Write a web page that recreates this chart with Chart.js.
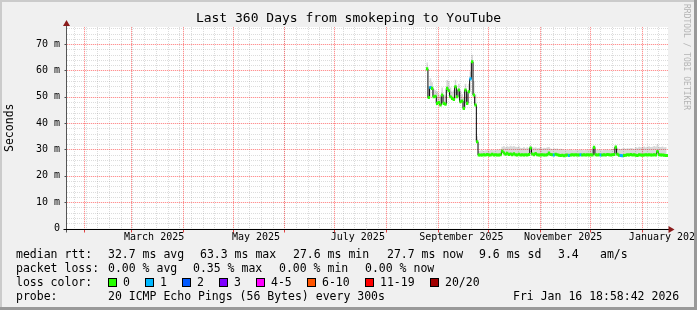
<!DOCTYPE html>
<html>
<head>
<meta charset="utf-8">
<title>Last 360 Days from smokeping to YouTube</title>
<script src="https://cdn.jsdelivr.net/npm/chart.js@4.4.1/dist/chart.umd.min.js"></script>
<style>
  html, body { margin: 0; padding: 0; background: #f0f0f0; }
  #graph { position: relative; width: 697px; height: 310px; overflow: hidden; background: #f0f0f0; }
  #graph canvas { position: absolute; left: 0; top: 0; }
  .txt { position: absolute; font: 11.5px "DejaVu Sans Mono", monospace; line-height: 14px; color: #000; white-space: pre; }
  .swatch { position: absolute; width: 7px; height: 7px; border: 1px solid #000; }
  #watermark { position: absolute; left: 682px; top: 4px; writing-mode: vertical-rl; font: 8px "DejaVu Sans Mono", monospace; line-height: 9px; color: #b4b4b4; white-space: pre; }
  .edge { position: absolute; }
</style>
</head>
<body>
<div id="graph">
  <canvas id="myChart" width="697" height="310"></canvas>
  <div id="legend"></div>
  <div id="watermark">RRDTOOL / TOBI OETIKER</div>
  <div class="edge" style="left:0;top:0;width:697px;height:2px;background:#cbcbcb"></div>
  <div class="edge" style="left:0;top:0;width:2px;height:310px;background:#cbcbcb"></div>
  <div class="edge" style="left:694px;top:0;width:3px;height:310px;background:#999"></div>
  <div class="edge" style="left:0;top:307px;width:697px;height:3px;background:#999"></div>
</div>
<script>
// Days are counted from Jan 1 2025 (day 0); one sample per day
const firstSampleDay = 236;   // Aug 25 2025
const rangeStart = 20.8;      // Jan 21 2025 ~19:00 (360 days back)
const rangeEnd = 380.8;       // Jan 16 2026 18:58

// median rtt in ms, one value per day
const medianRtt = [
  60.6, 49.7, 53.5, 53.2, 50.0, 50.2, 47.5, 47.8, 46.9, 50.7,
  47.5, 47.2, 53.2, 52.3, 50.0, 49.4, 49.0, 53.8, 50.0, 52.6,
  48.1, 48.4, 45.6, 52.6, 47.5, 51.9, 56.8, 63.3, 50.7, 46.9,
  32.9,
  27.9, 27.9, 27.9, 28.0, 27.9, 28.1, 27.9, 27.9, 28.2, 27.9,
  28.0, 27.9, 27.9, 28.0, 29.3, 28.7, 28.2, 28.6, 28.1, 28.3,
  28.0, 28.4, 28.0, 27.9, 28.2, 27.9, 28.0, 27.9, 28.0, 27.9,
  28.1, 30.6, 28.3, 28.0, 28.5, 28.0, 27.9, 27.9, 28.0, 27.9,
  27.9, 28.0, 28.7, 28.1, 28.0, 27.9, 28.2, 28.0, 27.8, 27.7,
  27.8, 27.6, 27.8, 27.9, 27.7, 27.9, 28.0, 27.9, 28.0, 27.9,
  27.9, 28.0, 27.9, 28.0, 27.9, 28.0, 27.9, 28.0, 27.9, 30.8,
  28.0, 27.9, 28.0, 27.9, 27.9, 28.0, 27.9, 28.1, 28.0, 27.9,
  28.0, 28.1, 30.9, 28.2, 27.8, 27.7, 27.6, 27.7, 27.8, 28.0,
  27.9, 28.1, 27.9, 28.0, 27.8, 27.7, 28.0, 27.9, 27.8, 27.9,
  28.0, 27.9, 28.0, 27.9, 27.9, 28.0, 27.9, 29.2, 28.0, 27.9,
  27.9, 27.8, 27.7, 27.7
];

// top of the smoke (slowest pings) in ms, one value per day
const smokeTop = [
  63.0, 54.0, 57.0, 55.5, 53.0, 52.5, 52.0, 51.0, 50.0, 53.5,
  51.0, 50.5, 56.4, 56.0, 53.5, 52.0, 52.5, 56.5, 53.0, 55.0,
  52.0, 51.0, 49.5, 55.0, 51.0, 55.0, 59.6, 66.0, 56.0, 51.0,
  35.0,
  29.4, 29.6, 29.8, 29.5, 29.7, 29.9, 29.6, 29.8, 29.9, 29.7,
  29.8, 30.0, 29.9, 30.2, 31.0, 31.3, 30.8, 31.2, 31.0, 31.4,
  31.1, 31.3, 31.0, 30.9, 31.2, 30.7, 30.6, 30.9, 30.5, 30.8,
  30.6, 31.5, 30.9, 30.7, 30.8, 30.5, 30.6, 30.9, 30.4, 30.7,
  30.6, 30.8, 30.9, 30.4, 30.2, 30.5, 30.3, 30.4, 30.1, 30.3,
  30.2, 29.9, 30.0, 29.8, 29.9, 30.1, 29.8, 29.7, 30.0, 29.9,
  29.8, 30.0, 29.9, 29.7, 29.9, 30.0, 29.8, 29.9, 30.0, 31.2,
  29.9, 29.8, 30.0, 29.9, 29.7, 30.0, 29.9, 30.1, 29.8, 30.0,
  30.2, 30.4, 31.4, 30.5, 30.3, 30.2, 30.4, 30.6, 30.3, 30.5,
  30.4, 30.6, 30.5, 30.3, 30.9, 30.7, 31.0, 30.8, 30.9, 31.1,
  30.8, 31.0, 31.2, 30.9, 31.0, 31.3, 31.1, 32.0, 31.0, 30.9,
  31.1, 30.8, 30.9, 30.7
];

// days with lost packets and how many were lost (all other days: 0)
const lossDays = [238, 262, 312, 321, 328, 340, 352, 353];
const lossCounts = [1, 1, 1, 1, 1, 1, 1, 1];

const lossLabels = ['0', '1', '2', '3', '4-5', '6-10', '11-19', '20/20'];
const lossColors = ['#26ff00', '#00b8ff', '#0059ff', '#7e00ff', '#ff00ff', '#ff5500', '#ff0000', '#a10000'];

const yTicks = [0, 10, 20, 30, 40, 50, 60, 70];
const monthStarts = [31, 59, 90, 120, 151, 181, 212, 243, 273, 304, 334, 365];
const monthLabelDays = [73, 134, 195, 257, 318, 379];
const monthLabels = ['March 2025', 'May 2025', 'July 2025', 'September 2025', 'November 2025', 'January 2026'];

const yMax = 76.5;
const lossBarHalf = 0.45;   // half height of the loss colour mark, in ms
const mono = '"DejaVu Sans Mono", monospace';
const minorGrid = 'rgba(128,128,128,0.28)';
const majorTint = 'rgba(255,0,0,0.1)';
const majorGrid = 'rgba(255,0,0,0.36)';

// legend rows below the graph
const legendRows = [
  [[16, 'median rtt:'], [108, '32.7 ms avg'], [200, '63.3 ms max'], [293, '27.6 ms min'],
   [387, '27.7 ms now'], [479, '9.6 ms sd'], [558, '3.4'], [600, 'am/s']],
  [[16, 'packet loss:'], [108, '0.00 % avg'], [193, '0.35 % max'], [279, '0.00 % min'], [365, '0.00 % now']],
  [[16, 'loss color:']],
  [[16, 'probe:'], [108, '20 ICMP Echo Pings (56 Bytes) every 300s'], [513, 'Fri Jan 16 18:58:42 2026']]
];
const legendTops = [247, 261, 275, 289];
const swatchX = [108, 145, 182, 219, 256, 307, 365, 430];

function buildLegend() {
  const box = document.getElementById('legend');
  legendRows.forEach((row, r) => {
    row.forEach(([x, text]) => {
      const s = document.createElement('div');
      s.className = 'txt';
      s.style.left = x + 'px';
      s.style.top = legendTops[r] + 'px';
      s.textContent = text;
      box.appendChild(s);
    });
  });
  lossLabels.forEach((label, i) => {
    const sw = document.createElement('div');
    sw.className = 'swatch';
    sw.style.left = swatchX[i] + 'px';
    sw.style.top = (legendTops[2] + 3) + 'px';
    sw.style.background = lossColors[i];
    box.appendChild(sw);
    const t = document.createElement('div');
    t.className = 'txt';
    t.style.left = (swatchX[i] + 15) + 'px';
    t.style.top = legendTops[2] + 'px';
    t.textContent = label;
    box.appendChild(t);
  });
}

function lossColorFor(day) {
  const k = lossDays.indexOf(day);
  const n = k < 0 ? 0 : lossCounts[k];
  if (n <= 3) return lossColors[n];
  if (n <= 5) return lossColors[4];
  if (n <= 10) return lossColors[5];
  if (n <= 19) return lossColors[6];
  return lossColors[7];
}

function fixWidth(w) {
  return s => { s.width = w; s.paddingTop = 0; s.paddingBottom = 0; };
}
function fixHeight(h) {
  return s => { s.height = h; s.paddingLeft = 0; s.paddingRight = 0; };
}

// rrdtool style dotted grid: one pixel on, one pixel off (optional tint under it)
function dottedLines(ctx, a, positions, vertical, color, tint) {
  ctx.save();
  positions.forEach(p => {
    const q = Math.round(p);
    if (tint) {
      ctx.fillStyle = tint;
      if (vertical) ctx.fillRect(q, a.top, 1, a.bottom - a.top);
      else ctx.fillRect(a.left, q, a.right - a.left, 1);
    }
    ctx.fillStyle = color;
    if (vertical) {
      for (let y = Math.ceil(a.top); y < a.bottom; y += 2) ctx.fillRect(q, y, 1, 1);
    } else {
      for (let x = Math.ceil(a.left); x < a.right; x += 2) ctx.fillRect(x, q, 1, 1);
    }
  });
  ctx.restore();
}

// white plot area, grid, axis lines and arrows like rrdtool
const frame = {
  id: 'frame',
  beforeDatasetsDraw(chart) {
    const { ctx, chartArea: a, scales } = chart;
    ctx.save();
    ctx.fillStyle = '#fff';
    ctx.fillRect(a.left, a.top, a.right - a.left, a.bottom - a.top);
    ctx.restore();
    const weeks = [];
    for (let d = 25; d <= rangeEnd; d += 7) weeks.push(scales.x.getPixelForValue(d));
    const minorY = [];
    for (let v = 2; v <= yMax; v += 2) if (v % 10) minorY.push(scales.y.getPixelForValue(v));
    dottedLines(ctx, a, weeks, true, minorGrid);
    dottedLines(ctx, a, minorY, false, minorGrid);
    dottedLines(ctx, a, monthStarts.map(d => scales.x.getPixelForValue(d)), true, majorGrid, majorTint);
    dottedLines(ctx, a, yTicks.filter(v => v > 0).map(v => scales.y.getPixelForValue(v)), false, majorGrid, majorTint);
  },
  afterDraw(chart) {
    const { ctx, chartArea: a, scales } = chart;
    const ax = Math.round(a.left) - 0.5;
    const ay = Math.round(a.bottom) + 0.5;
    ctx.save();
    ctx.lineWidth = 1;
    // small month ticks under the time axis
    ctx.strokeStyle = '#e04040';
    ctx.beginPath();
    monthStarts.forEach(d => {
      const q = Math.round(scales.x.getPixelForValue(d)) + 0.5;
      ctx.moveTo(q, ay); ctx.lineTo(q, ay + 3);
    });
    ctx.stroke();
    // small value ticks left of the value axis
    ctx.strokeStyle = '#505050';
    ctx.beginPath();
    yTicks.forEach(v => {
      const q = Math.round(scales.y.getPixelForValue(v)) + 0.5;
      ctx.moveTo(ax - 2, q); ctx.lineTo(ax, q);
    });
    ctx.stroke();
    ctx.strokeStyle = '#555';
    ctx.beginPath(); ctx.moveTo(ax, a.top - 2); ctx.lineTo(ax, ay + 3); ctx.stroke();
    ctx.strokeStyle = '#000';
    ctx.beginPath(); ctx.moveTo(ax - 3, ay); ctx.lineTo(a.right + 1, ay); ctx.stroke();
    ctx.fillStyle = '#8b1c1c';
    ctx.beginPath();
    ctx.moveTo(ax - 3.5, a.top - 1); ctx.lineTo(ax + 3.5, a.top - 1); ctx.lineTo(ax, a.top - 7);
    ctx.closePath(); ctx.fill();
    ctx.beginPath();
    ctx.moveTo(a.right + 0.5, ay - 3.5); ctx.lineTo(a.right + 0.5, ay + 3.5); ctx.lineTo(a.right + 6.5, ay);
    ctx.closePath(); ctx.fill();
    ctx.restore();
  }
};

function drawGraph() {
  const ctx = document.getElementById('myChart').getContext('2d');
  const days = medianRtt.map((_, i) => firstSampleDay + i);

  new Chart(ctx, {
    type: 'line',
    data: {
      datasets: [{
        label: 'smoke',
        data: days.map((d, i) => ({ x: d, y: smokeTop[i] })),
        stepped: true,
        borderWidth: 0,
        borderColor: 'transparent',
        pointRadius: 0,
        backgroundColor: 'rgba(0,0,0,0.15)',
        fill: 1,
        order: 2
      }, {
        label: 'median rtt',
        data: days.map((d, i) => ({ x: d, y: medianRtt[i] })),
        stepped: true,
        borderWidth: 1,
        borderColor: '#000',
        pointRadius: 0,
        fill: false,
        order: 1
      }, {
        type: 'bar',
        label: 'loss color',
        data: days.map((d, i) => ({ x: d + 0.5, y: [medianRtt[i] - lossBarHalf, medianRtt[i] + lossBarHalf] })),
        backgroundColor: days.map(d => lossColorFor(d)),
        borderWidth: 0,
        barPercentage: 1,
        categoryPercentage: 1,
        order: 0
      }]
    },
    options: {
      responsive: false,
      animation: false,
      devicePixelRatio: 1,
      layout: { padding: 0 },
      plugins: {
        legend: { display: false },
        tooltip: { enabled: false },
        title: {
          display: true,
          text: 'Last 360 Days from smokeping to YouTube',
          color: '#000',
          font: { family: mono, size: 13, weight: 'normal', lineHeight: 1.2 },
          padding: { top: 11, bottom: 0.4 }
        }
      },
      scales: {
        x: {
          type: 'linear', position: 'bottom', min: rangeStart, max: rangeEnd,
          bounds: 'data', offset: false,
          afterBuildTicks: s => { s.ticks = monthLabelDays.map(v => ({ value: v })); },
          afterFit: fixHeight(81.5),
          grid: { display: false, drawTicks: false, offset: false },
          border: { display: false },
          ticks: {
            autoSkip: false, maxRotation: 0, minRotation: 0, padding: 3,
            color: '#000', font: { family: mono, size: 10, lineHeight: 1.2 },
            callback: (v, i) => monthLabels[i]
          }
        },
        y: {
          type: 'linear', position: 'left', min: 0, max: yMax,
          afterBuildTicks: s => { s.ticks = yTicks.map(v => ({ value: v })); },
          afterFit: fixWidth(67),
          grid: { display: false, drawTicks: false },
          border: { display: false },
          ticks: {
            padding: 7, color: '#000', font: { family: mono, size: 10, lineHeight: 1.2 },
            callback: v => (v === 0 ? '0' : v + ' m')
          },
          title: {
            display: true, text: 'Seconds', color: '#000',
            font: { family: mono, size: 11.5, lineHeight: 1.2 },
            padding: { top: 3.5, bottom: 0 }
          }
        },
        yRight: {
          type: 'linear', position: 'right', min: 0, max: yMax,
          afterFit: fixWidth(29),
          grid: { display: false, drawTicks: false },
          border: { display: false },
          ticks: { display: false }
        }
      }
    },
    plugins: [frame]
  });
}

buildLegend();
drawGraph();
</script>
</body>
</html>
